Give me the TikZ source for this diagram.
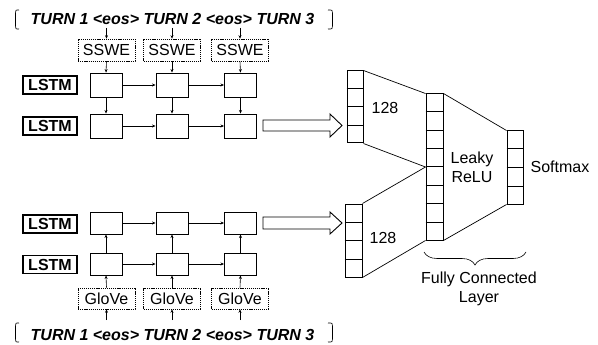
\documentclass[tikz,border=0pt]{standalone}
\usepackage{fontspec}
\setmainfont{Liberation Sans}
\usetikzlibrary{arrows.meta,calc,decorations.pathreplacing}
\begin{document}
\begin{tikzpicture}[x=1pt,y=-1pt,
  font=\fontsize{16}{19}\selectfont,
  cell/.style={draw, line width=0.9pt, minimum width=32pt, minimum height=24pt, inner sep=0},
  lbl/.style={draw, line width=1.1pt, minimum width=54pt, minimum height=18pt, inner sep=0, font=\fontsize{16}{19}\selectfont\bfseries},
  emb/.style={draw, dash pattern=on 1.2pt off 0.9pt, line width=0.6pt, minimum width=57pt, minimum height=22pt, inner sep=0},
  turn/.style={inner sep=0, anchor=base, font=\fontsize{16}{19}\selectfont\bfseries\itshape},
  conn/.style={-{Stealth[length=3.5pt,width=3pt]}, line width=0.6pt},
  vec/.style={draw, line width=1pt, inner sep=0},
  hollow/.style={draw, line width=0.9pt},
  brk/.style={line width=0.6pt}]
\useasboundingbox (0,0) rectangle (598,345);

% ---------- top branch ----------
\node[turn] (ttop) at (172.5,25) {TURN 1 <eos> TURN 2 <eos> TURN 3};
\draw[brk] (19,10) .. controls (15.5,10) .. (15.5,13) -- (15.5,26) .. controls (15.5,29) .. (19,29);
\draw[brk] (328,10) .. controls (332.5,10) .. (332.5,13) -- (332.5,26) .. controls (332.5,29) .. (328,29);

\node[emb] (s1) at (106.5,50) {SSWE};
\node[emb] (s2) at (172,50) {SSWE};
\node[emb] (s3) at (240,50) {SSWE};

\coordinate (tt1) at (106.5,28);
\coordinate (tt2) at (172,28);
\coordinate (tt3) at (240,28);
\foreach \i in {1,2,3} \draw[conn] (tt\i) -- (s\i.north);

\node[lbl] (l1) at (50,85) {LSTM};
\node[lbl] (l2) at (50,126) {LSTM};

\node[cell] (a1) at (106,85) {};
\node[cell] (a2) at (172,85) {};
\node[cell] (a3) at (240.5,85) {};
\node[cell] (b1) at (106,126) {};
\node[cell] (b2) at (172,126) {};
\node[cell] (b3) at (240.5,126) {};

\foreach \i in {1,2,3} {
  \draw[conn] (s\i.south) -- (a\i.north);
  \draw[conn] (a\i.south) -- (b\i.north);
}
\draw[conn] (a1) -- (a2);
\draw[conn] (a2) -- (a3);
\draw[conn] (b1) -- (b2);
\draw[conn] (b2) -- (b3);

\draw[hollow] (263,120) -- (330,120) -- (330,114) -- (342,125.5) -- (330,137) -- (330,131) -- (263,131) -- cycle;

% ---------- bottom branch ----------
\node[lbl] (l3) at (50,224) {LSTM};
\node[lbl] (l4) at (50,264.5) {LSTM};

\node[cell, minimum height=22pt] (c1) at (106,223) {};
\node[cell, minimum height=22pt] (c2) at (172,223) {};
\node[cell, minimum height=22pt] (c3) at (240.5,223) {};
\node[cell, minimum height=22pt] (d1) at (106,264) {};
\node[cell, minimum height=22pt] (d2) at (172,264) {};
\node[cell, minimum height=22pt] (d3) at (240.5,264) {};

\node[emb, minimum height=21pt] (g1) at (106.5,298.5) {GloVe};
\node[emb, minimum height=21pt] (g2) at (172,298.5) {GloVe};
\node[emb, minimum height=21pt] (g3) at (240,298.5) {GloVe};

\node[turn] (tbot) at (172.5,340) {TURN 1 <eos> TURN 2 <eos> TURN 3};
\draw[brk] (19,323) .. controls (15.5,323) .. (15.5,326) -- (15.5,339) .. controls (15.5,342) .. (19,342);
\draw[brk] (328,323) .. controls (332.5,323) .. (332.5,326) -- (332.5,339) .. controls (332.5,342) .. (328,342);

\coordinate (bb1) at (106.5,320);
\coordinate (bb2) at (172,320);
\coordinate (bb3) at (240,320);
\foreach \i in {1,2,3} {
  \draw[conn] (bb\i) -- (g\i.south);
  \draw[conn] (g\i.north) -- (d\i.south);
  \draw[conn] (d\i.north) -- (c\i.south);
}
\draw[conn] (c1) -- (c2);
\draw[conn] (c2) -- (c3);
\draw[conn] (d1) -- (d2);
\draw[conn] (d2) -- (d3);

\draw[hollow] (263,217) -- (330,217) -- (330,212) -- (342,223) -- (330,234) -- (330,229) -- (263,229) -- cycle;

% ---------- dense layers ----------
\node[vec, minimum width=16pt, minimum height=72pt] (v1) at (355,107) {};
\node[vec, minimum width=17pt, minimum height=73pt] (v2) at (353.5,240.5) {};
\node[vec, minimum width=17pt, minimum height=146pt] (fc) at (434.5,167) {};
\node[vec, minimum width=16pt, minimum height=73pt] (sm) at (515,167.5) {};

\foreach \i in {1,2,3} {
  \draw[line width=1pt] ($(v1.north west)!\i/4!(v1.south west)$) -- ($(v1.north east)!\i/4!(v1.south east)$);
  \draw[line width=1pt] ($(v2.north west)!\i/4!(v2.south west)$) -- ($(v2.north east)!\i/4!(v2.south east)$);
  \draw[line width=1pt] ($(sm.north west)!\i/4!(sm.south west)$) -- ($(sm.north east)!\i/4!(sm.south east)$);
}
\foreach \i in {1,...,7}
  \draw[line width=1pt] ($(fc.north west)!\i/8!(fc.south west)$) -- ($(fc.north east)!\i/8!(fc.south east)$);

\draw[line width=0.7pt] (v1.north east) -- (fc.north west);
\draw[line width=0.7pt] (v1.south east) -- (fc.west);
\draw[line width=0.7pt] (v2.north east) -- (fc.west);
\draw[line width=0.7pt] (v2.south east) -- (fc.south west);
\draw[line width=0.7pt] (fc.north east) -- (sm.north west);
\draw[line width=0.7pt] (fc.south east) -- (sm.south west);

\node (n1) at (385,108) {128};
\node (n2) at (383,238) {128};
\node[align=center, inner sep=0] (lr) at (472,167.5) {Leaky\\ReLU};
\node (smx) at (560,167) {Softmax};

\coordinate (br1) at (424,252);
\coordinate (br2) at (526,252);
\draw[line width=0.6pt, decorate, decoration={brace, amplitude=13pt}] (br2) -- (br1);
\node[align=center, inner sep=0] (fcl) at (479,288.5) {Fully Connected\\Layer};
\end{tikzpicture}
\end{document}
